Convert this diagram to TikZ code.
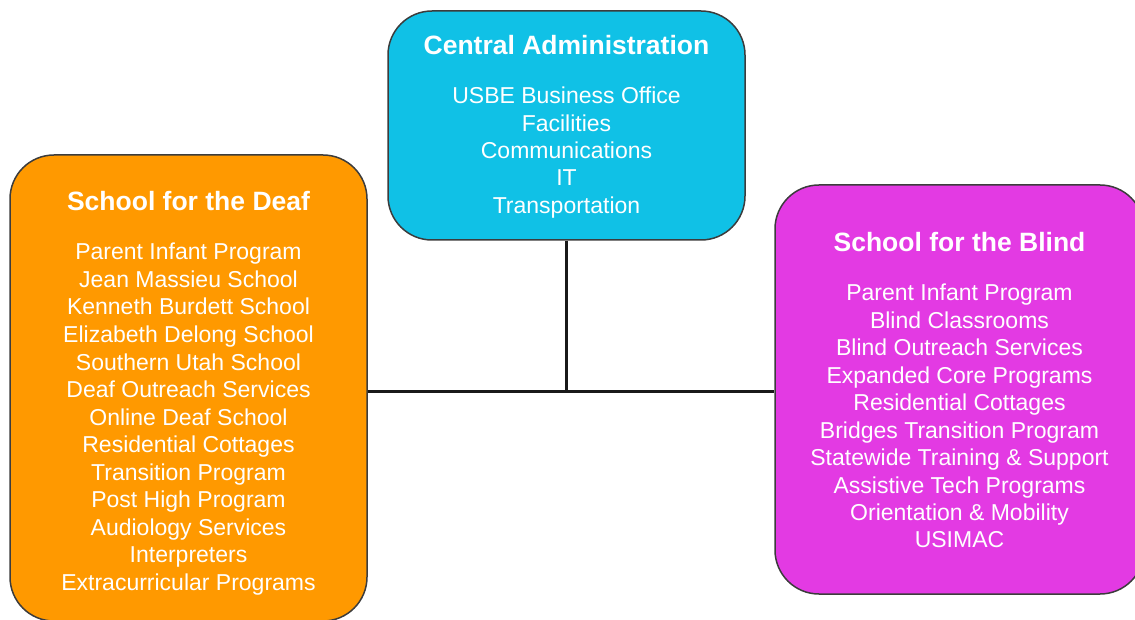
\documentclass[tikz,border=0pt]{standalone}
\usepackage{fontspec}
\setmainfont{Liberation Sans}
\definecolor{adminblue}{RGB}{16,193,230}
\definecolor{deaforange}{RGB}{255,153,0}
\definecolor{blindpink}{RGB}{227,58,227}
\definecolor{edgegray}{RGB}{60,60,60}
\begin{document}
\begin{tikzpicture}[x=1pt,y=-1pt,
  unitbox/.style={draw=edgegray, line width=1.5pt, rounded corners=44pt,
    inner sep=0pt, minimum width=#1},
  headline/.style={text=white, font=\fontsize{26.5}{30}\selectfont\bfseries,
    anchor=base, inner sep=0pt},
  itemline/.style={text=white, font=\fontsize{23}{27.5}\selectfont,
    anchor=base, inner sep=0pt},
  link/.style={draw=black!90, line width=3pt}]
\useasboundingbox (0,0) rectangle (1135,620);
\clip (0,0) rectangle (1135,620);

% unit boxes
\node[unitbox=357pt, minimum height=229pt, fill=adminblue] (central) at (566.5,125.5) {};
\node[unitbox=357pt, minimum height=466pt, fill=deaforange] (deaf) at (188.5,388) {};
\node[unitbox=369pt, minimum height=409pt, fill=blindpink] (blind) at (959.5,389.5) {};

% connectors
\coordinate (junction) at (566.5,391);
\draw[link] (central.south) -- (junction);
\draw[link] (deaf.east |- junction) -- (blind.west |- junction);

% Central Administration
\node[headline] (central-title) at (566.5,55) {Central Administration};
\foreach \t [count=\i] in {USBE Business Office, Facilities, Communications, IT, Transportation}
  \node[itemline] (central-\i) at (566.5,{104+27.3*(\i-1)}) {\t};

% School for the Deaf
\node[headline] (deaf-title) at (188.5,211) {School for the Deaf};
\foreach \t [count=\i] in {Parent Infant Program, Jean Massieu School, Kenneth Burdett School,
    Elizabeth Delong School, Southern Utah School, Deaf Outreach Services, Online Deaf School,
    Residential Cottages, Transition Program, Post High Program, Audiology Services,
    Interpreters, Extracurricular Programs}
  \node[itemline] (deaf-\i) at (188.5,{260+27.5*(\i-1)}) {\t};

% School for the Blind
\node[headline] (blind-title) at (959.5,252) {School for the Blind};
\foreach \t [count=\i] in {Parent Infant Program, Blind Classrooms, Blind Outreach Services,
    Expanded Core Programs, Residential Cottages, Bridges Transition Program,
    Statewide Training \& Support, Assistive Tech Programs, Orientation \& Mobility, USIMAC}
  \node[itemline] (blind-\i) at (959.5,{301+27.44*(\i-1)}) {\t};
\end{tikzpicture}
\end{document}
